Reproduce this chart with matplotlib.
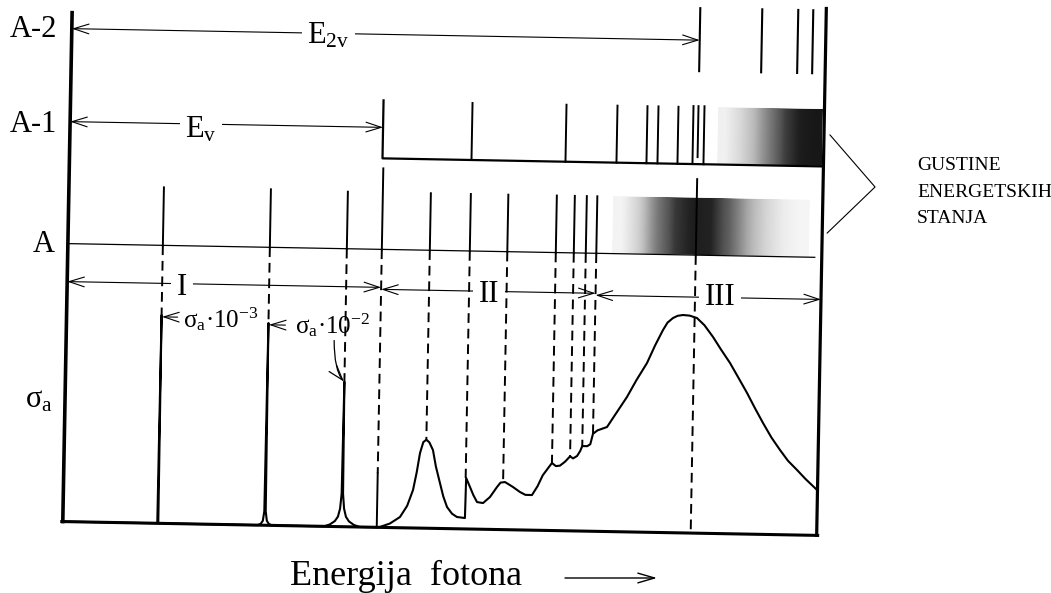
import numpy as np
import matplotlib.pyplot as plt
from matplotlib.transforms import Affine2D

plt.rcParams['font.family'] = 'Liberation Serif'
plt.rcParams['mathtext.fontset'] = 'custom'
plt.rcParams['mathtext.rm'] = 'Liberation Serif'
plt.rcParams['mathtext.it'] = 'Liberation Serif:italic'

# photon energy runs left to right, level rows top to bottom (sketch units)
x_left, x_right = 67, 821
y_base = 530
y_a = 252            # ground level A

# levels of the doubly ionised atom (A-2)
a2_lines = [695, 757, 793, 808]
# levels of the ion (A-1), threshold E_v at the step
e_v = 380
a1_lines = [469, 563, 614, 644, 655, 675, 690, 695, 701]
a1_tops = [104, 104, 104, 104, 104, 104, 103, 103, 103]
a1_bots = [161, 161, 161, 161, 161, 161, 161, 154, 161]
e_2v = 695

# excited levels of A dropped onto the spectrum
drop_x = [162, 269, 346, 381, 429, 469, 506.5, 555, 573, 585, 595.5, 695]
drop_top = [194, 194, 195, 171, 195, 195, 195, 195, 195, 195, 195, 176]
drop_end = [321.6, 327.7, 385, 476, 441.5, 479, 482.4, 462.5, 455.5, 445, 432.5, 530]

# absorption cross section sigma_a
spec_x = [67, 161.5, 162, 162.5,
          262, 265, 267, 268.3, 269, 269.7, 271, 273, 276,
          328, 334, 339, 342, 344, 345.3, 346, 346.7, 348, 350, 353, 358, 364,
          381, 384, 394, 404, 411, 416.6, 420, 422.9, 426, 429, 432, 435.8, 439,
          443.4, 447, 450.9, 456, 461, 469, 469.5, 473.5, 477, 480.8, 486.8,
          493.7, 500.5, 504, 508.4, 512, 516.5, 523.6, 529, 535.6, 541, 546,
          551, 555, 559, 563, 568, 573, 576, 580, 583, 585, 590, 593, 595.5,
          600, 609.4, 618, 628.8, 638, 648.2, 656, 663.6, 668, 673.4, 678,
          683.4, 690, 697.4, 705, 713.8, 722, 731.2, 740, 748.8, 757, 765.3,
          774, 782.8, 791, 800.2, 809, 818.5, 821]
spec_y = [530, 530, 321.6, 530,
          530, 528.5, 525.5, 516, 327.7, 516, 525.5, 528.5, 530,
          530, 528, 524.5, 520, 512, 497, 385, 497, 512, 520, 524.5, 528, 530,
          530, 529.6, 526, 519.3, 508, 492, 474, 455, 444, 441.5, 444, 451.7, 468,
          484.6, 498, 508.4, 515, 518.2, 519.1, 479, 488, 496, 502.9, 503.8,
          497.6, 487.5, 483, 482.4, 484.5, 487.2, 492.1, 494.8, 494.9, 486, 475,
          468, 462.5, 465.5, 465, 461, 455.5, 457.5, 455, 450, 445, 445, 443, 432.5,
          429, 425.5, 412, 395.1, 378, 360.8, 343, 327.5, 320, 315.3, 313,
          312.1, 312.6, 314.9, 322, 333.6, 346, 359.2, 374, 388.9, 404, 418.6,
          433, 445.3, 456, 465, 474, 482.7, 485]

# regions I, II, III
sec_edges = [67, 381, 595.5, 821]
sec_rows = [290, 292, 294]
sec_names = ['I', 'II', 'III']

# density of states shading (0 = white, 1 = black)
a1_shade = [0.12, 0.25, 0.4, 0.6, 0.8, 0.9, 0.92]
a_shade = [0.1, 0.3, 0.6, 0.82, 0.9, 0.88, 0.7, 0.45, 0.28, 0.15, 0.08]


def drop_lines(ax, tr):
  for x, top, end in zip(drop_x, drop_top, drop_end):
    ax.plot([x, x], [top, y_a], 'k', lw=1.4, transform=tr)
    ax.plot([x, x], [y_a, end], 'k', lw=1.4, ls=(0, (5, 3)), transform=tr)
  # threshold line comes back solid near the edge
  ax.plot([381, 381], [476, y_base], 'k', lw=1.4, transform=tr)


def span_arrow(ax, tr, x0, x1, y, style='<->', lw=0.8):
  ax.annotate('', xy=(x1, y), xytext=(x0, y), xycoords=tr, textcoords=tr,
              arrowprops=dict(arrowstyle=style + ',head_length=1.1,head_width=0.35',
                              lw=lw, color='k', shrinkA=0, shrinkB=0,
                              mutation_scale=10))


def diagram():
  fig = plt.figure(figsize=(10.51, 5.93), dpi=100)
  ax = fig.add_axes([0, 0, 1, 1])
  # the whole sketch sits tilted by about a degree
  tr = Affine2D().rotate_deg_around(525, 296, 1.05) + ax.transData

  # walls and baseline
  ax.plot([x_left, x_left], [21, y_base], 'k', lw=2.6, transform=tr)
  ax.plot([x_right, x_right], [3, y_base], 'k', lw=2.3, transform=tr)
  ax.plot([x_left - 1, x_right + 1], [y_base, y_base], 'k', lw=2.2, transform=tr)

  # A-2 levels
  for x in a2_lines:
    ax.plot([x, x], [5, 68], 'k', lw=1.5, transform=tr)

  # A-1 continuum edge and levels
  ax.plot([e_v, e_v, x_right], [103, 161, 161], 'k', lw=1.6, transform=tr)
  for x, t, b in zip(a1_lines, a1_tops, a1_bots):
    ax.plot([x, x], [t, b], 'k', lw=1.4, transform=tr)

  # A ground level
  ax.plot([x_left, 814], [y_a, y_a], 'k', lw=0.9, transform=tr)

  # densities of states
  im = ax.imshow(np.array([a1_shade]), cmap='Greys', vmin=0, vmax=1,
                 extent=(715, 819, 161, 104), interpolation='bilinear',
                 aspect='auto')
  im.set_transform(tr)
  im = ax.imshow(np.array([a_shade]), cmap='Greys', vmin=0, vmax=1,
                 extent=(611, 807, 252, 195), interpolation='bilinear',
                 aspect='auto')
  im.set_transform(tr)

  drop_lines(ax, tr)

  # spectrum
  ax.plot(spec_x, spec_y, 'k', lw=1.5, transform=tr, solid_joinstyle='round')

  # energy spans
  span_arrow(ax, tr, x_left, e_2v, 37)
  span_arrow(ax, tr, x_left, e_v, 130)
  for i in range(3):
    span_arrow(ax, tr, sec_edges[i], sec_edges[i + 1], sec_rows[i])

  box = dict(fc='white', ec='none', pad=4)
  ax.text(307, 43, 'E$_{\\rm 2v}$', fontsize=22, va='baseline', bbox=box)
  ax.text(185, 137, 'E$_{\\rm v}$', fontsize=22, va='baseline', bbox=box)
  ax.text(182, 295, 'I', fontsize=22, va='baseline', ha='center', bbox=box)
  ax.text(489, 302, 'II', fontsize=22, va='baseline', ha='center', bbox=box)
  ax.text(720, 305, 'III', fontsize=22, va='baseline', ha='center', bbox=box)

  # row labels
  ax.text(10, 37, 'A-2', fontsize=22, va='baseline')
  ax.text(10, 132, 'A-1', fontsize=22, va='baseline')
  ax.text(33, 252, 'A', fontsize=22, va='baseline')
  ax.text(25, 408, 'σ$_{\\rm a}$', fontsize=22, va='baseline')

  # scaled-down narrow lines
  span_arrow(ax, tr, 178, 162.5, 323.5, style='->')
  ax.text(183, 327, 'σ$_{\\rm a}$·10$^{-3}$', fontsize=18, va='baseline')
  span_arrow(ax, tr, 286, 269.5, 329.5, style='->')
  ax.text(295, 333, 'σ$_{\\rm a}$·10$^{-2}$', fontsize=18, va='baseline')
  ax.annotate('', xy=(345.6, 385), xytext=(335, 344), xycoords=tr, textcoords=tr,
              arrowprops=dict(arrowstyle='->,head_length=1.1,head_width=0.35',
                              connectionstyle='angle3,angleA=90,angleB=-50',
                              lw=0.9, color='k', shrinkA=0, shrinkB=0,
                              mutation_scale=10))

  # bracket to the density of states note
  ax.plot([827, 873, 826], [129.4, 180.6, 227.5], 'k', lw=0.8, transform=tr)
  ax.text(917, 170, 'GUSTINE', fontsize=14, va='baseline')
  ax.text(917, 197, 'ENERGETSKIH', fontsize=14, va='baseline')
  ax.text(917, 223, 'STANJA', fontsize=14, va='baseline')

  # axis caption
  ax.text(290, 585, 'Energija  fotona', fontsize=26, va='baseline')
  ax.annotate('', xy=(657, 578), xytext=(565, 578),
              arrowprops=dict(arrowstyle='->,head_length=1.2,head_width=0.35',
                              lw=1.0, color='k', shrinkA=0, shrinkB=0,
                              mutation_scale=10))

  ax.set_xlim(0, 1051)
  ax.set_ylim(593, 0)
  ax.axis('off')
  fig.savefig('out.png', dpi=100, facecolor='white')


diagram()
